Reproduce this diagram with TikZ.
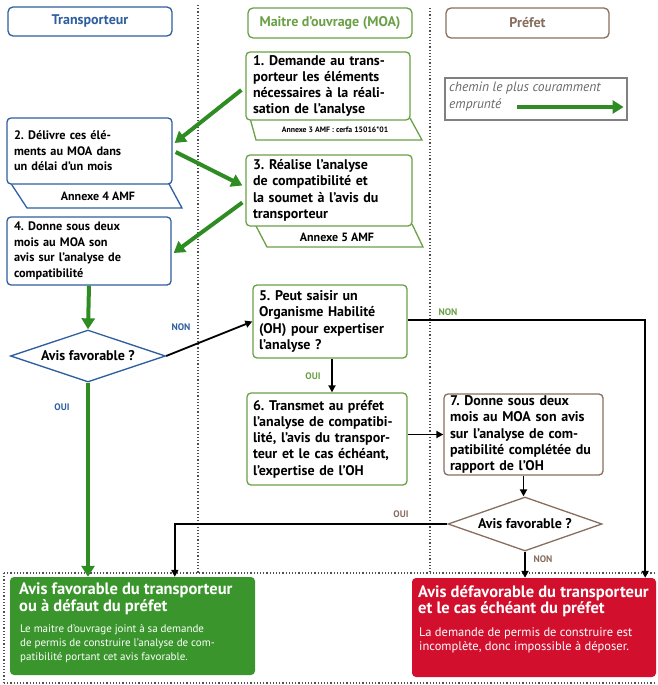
\documentclass[tikz,border=0pt]{standalone}
\usepackage{fontspec}
\setmainfont{PT Sans}
\usetikzlibrary{shapes.geometric,arrows.meta,calc}
\definecolor{tblue}{RGB}{46,94,158}
\definecolor{mgreen}{RGB}{106,160,70}
\definecolor{pbrown}{RGB}{135,110,95}
\definecolor{agreen}{RGB}{46,140,34}
\definecolor{fgreen}{RGB}{58,150,44}
\definecolor{fred}{RGB}{210,16,46}
\definecolor{dotgray}{RGB}{80,80,80}
\definecolor{leggray}{RGB}{105,105,105}
\tikzset{
  hdr/.style={draw, rounded corners=5pt, line width=1.3pt, fill=white, inner sep=0pt, font=\fontsize{14}{16}\selectfont\bfseries},
  bx/.style={draw, rounded corners=4pt, line width=1.3pt, fill=white, align=left, inner sep=0pt, font=\fontsize{14}{16.3}\selectfont\bfseries},
  bxs/.style={bx, font=\fontsize{12.3}{15.6}\selectfont\bfseries},
  tabline/.style={line width=1.3pt},
  tabtxt/.style={inner sep=0pt, font=\fontsize{12}{13}\selectfont\bfseries},
  dec/.style={diamond, aspect=2.95, draw, line width=1.3pt, fill=white, inner sep=0pt, font=\fontsize{14}{16}\selectfont\bfseries},
  garrow/.style={draw=agreen, line width=4pt, -{Triangle[length=11pt,width=13pt]}},
  barrow/.style={draw=black, line width=1.8pt, -{Triangle[length=7pt,width=7pt]}},
  lbl/.style={inner sep=0pt, font=\fontsize{9.5}{11}\selectfont\bfseries},
  dots/.style={draw=dotgray, line width=1.2pt, dotted},
  fttl/.style={anchor=north west, align=left, inner sep=0pt, text=white, font=\fontsize{16.5}{16.5}\selectfont\bfseries},
  fbody/.style={anchor=north west, align=left, inner sep=0pt, text=white, font=\fontsize{11}{14}\selectfont}
}
\begin{document}
\frenchspacing
\begin{tikzpicture}[x=1pt,y=-1pt]
\useasboundingbox (0,0) rectangle (658,685);

% column separators and bottom frame
\draw[dots] (198,5) -- (198,573);
\draw[dots] (430,8) -- (430,573);
\draw[dots] (4,573) -- (656,573);
\draw[dots] (4,683) -- (656,683);
\draw[dots] (4,573) -- (4,683);

% headers
\node[hdr, draw=tblue, text=tblue, minimum width=164pt, minimum height=29pt] (h1) at (90,21.5) {Transporteur};
\node[hdr, draw=mgreen, text=mgreen, minimum width=164pt, minimum height=30pt] (h2) at (330,23) {Maitre d’ouvrage (MOA)};
\node[hdr, draw=pbrown, text=pbrown, minimum width=163pt, minimum height=30pt] (h3) at (527.5,23) {Préfet};

% legend
\node[draw=gray, line width=1.2pt, minimum width=182pt, minimum height=42pt, inner sep=0pt] (leg) at (536,99) {};
\node[anchor=north west, align=left, inner sep=0pt, text=leggray, font=\fontsize{13.5}{17}\selectfont\itshape] (legt) at (449,82) {chemin le plus couramment\\emprunté};
\draw[garrow] ($(leg.west)+(73,8)$) -- ($(leg.east)+(-4,8)$);

% tabs (drawn first, under boxes)
\draw[tabline, draw=mgreen] (250,118) -- (256,140) -- (422,140) -- (410,118);
\node[tabtxt, font=\fontsize{7.8}{9}\selectfont\bfseries] (t1) at (335,130) {Annexe 3 AMF : cerfa 15016*01};
\draw[tabline, draw=tblue] (10,182) -- (27,208) -- (182,208) -- (168,182);
\node[tabtxt] (t2) at (98,196) {Annexe 4 AMF};
\draw[tabline, draw=mgreen] (255,224) -- (267,247) -- (423,247) -- (412,224);
\node[tabtxt] (t3) at (337,237) {Annexe 5 AMF};

% boxes
\node[bx, draw=mgreen, minimum width=164pt, minimum height=68pt, text width=150pt] (b1) at (328,86)
  {1. Demande au trans-\\porteur les éléments\\nécessaires à la réali-\\sation de l’analyse};
\node[bxs, draw=tblue, minimum width=165pt, minimum height=66pt, text width=151pt] (b2) at (89.5,151)
  {2. Délivre ces élé-\\ments au MOA dans\\un délai d’un mois};
\node[bx, draw=mgreen, minimum width=166pt, minimum height=71pt, text width=152pt] (b3) at (329,190.5)
  {3. Réalise l’analyse\\de compatibilité et\\la soumet à l’avis du\\transporteur};
\node[bxs, draw=tblue, minimum width=164pt, minimum height=68pt, text width=150pt] (b4) at (89,251)
  {4. Donne sous deux\\mois au MOA son\\avis sur l’analyse de\\compatibilité};
\node[dec, draw=tblue, minimum width=155pt, minimum height=52pt] (d1) at (88,356) {Avis favorable ?};
\node[bx, draw=mgreen, minimum width=154pt, minimum height=73pt, text width=142pt] (b5) at (330,321.5)
  {5. Peut saisir un\\Organisme Habilité\\(OH) pour expertiser\\l’analyse ?};
\node[bx, draw=mgreen, minimum width=160pt, minimum height=92pt, text width=148pt] (b6) at (327,439)
  {6. Transmet au préfet\\l’analyse de compatibi-\\lité, l’avis du transpor-\\teur et le cas échéant,\\l’expertise de l’OH};
\node[bx, draw=pbrown, minimum width=159pt, minimum height=81pt, text width=147pt] (b7) at (523.5,434.5)
  {7. Donne sous deux\\mois au MOA son avis\\sur l’analyse de com-\\patibilité complétée du\\rapport de l’OH};
\node[dec, draw=pbrown, minimum width=154pt, minimum height=54pt] (d2) at (525,524) {Avis favorable ?};

% final boxes
\node[fill=fgreen, rounded corners=4pt, minimum width=245pt, minimum height=98pt, inner sep=0pt] (fg) at (132.5,626) {};
\node[fttl] (fgt) at (19,583) {Avis favorable du transporteur\\ou à défaut du préfet};
\node[fbody] (fgb) at (20,624) {Le maitre d’ouvrage joint à sa demande\\de permis de construire l’analyse de com-\\patibilité portant cet avis favorable.};
\node[fill=fred, rounded corners=4pt, minimum width=244pt, minimum height=99pt, inner sep=0pt] (fr) at (534,627.5) {};
\node[fttl] (frt) at (418,585) {Avis défavorable du transporteur\\et le cas échéant du préfet};
\node[fbody, font=\fontsize{12.5}{14}\selectfont] (frb) at (419,627) {La demande de permis de construire est\\incomplète, donc impossible à déposer.};

% green main path
\draw[garrow] ($(b1.west)+(-4,4)$) -- ($(b2.east)+(2,-8)$);
\draw[garrow] ($(b2.east)+(3,1)$) -- ($(b3.west)+(-3,-5)$);
\draw[garrow] ($(b3.west)+(-3,12)$) -- ($(b4.east)+(2,2)$);
\draw[garrow] (b4.south) -- (d1.north);
\draw[garrow] (d1.south) -- (d1.south |- fg.north);

% black connectors
\draw[barrow] (d1.east) -- (b5.west);
\draw[barrow] ($(b5.south)+(2,0)$) -- ($(b5.south |- b6.north)+(2,0)$);
\draw[barrow] (b6.east |- b7.west) -- (b7.west);
\draw[barrow] (b7.south) -- (b7.south |- d2.north);
\draw[barrow] (d2.south) -- (d2.south |- fr.north);
\coordinate (nonc) at ($(fr.north east)+(-11,0)$);
\draw[barrow] ($(b5.east)+(0,-1.5)$) -| (nonc);
\coordinate (ouic) at ($(fg.north west)+(165,0)$);
\draw[barrow] (d2.west) -| (ouic);

% labels
\node[lbl, text=tblue] (l1) at (181,327) {NON};
\node[lbl, text=tblue] (l2) at (62,407) {OUI};
\node[lbl, text=mgreen] (l3) at (448,312) {NON};
\node[lbl, text=mgreen] (l4) at (313,376) {OUI};
\node[lbl, text=pbrown] (l5) at (401,514) {OUI};
\node[lbl, text=pbrown] (l6) at (543,559) {NON};
\end{tikzpicture}
\end{document}
